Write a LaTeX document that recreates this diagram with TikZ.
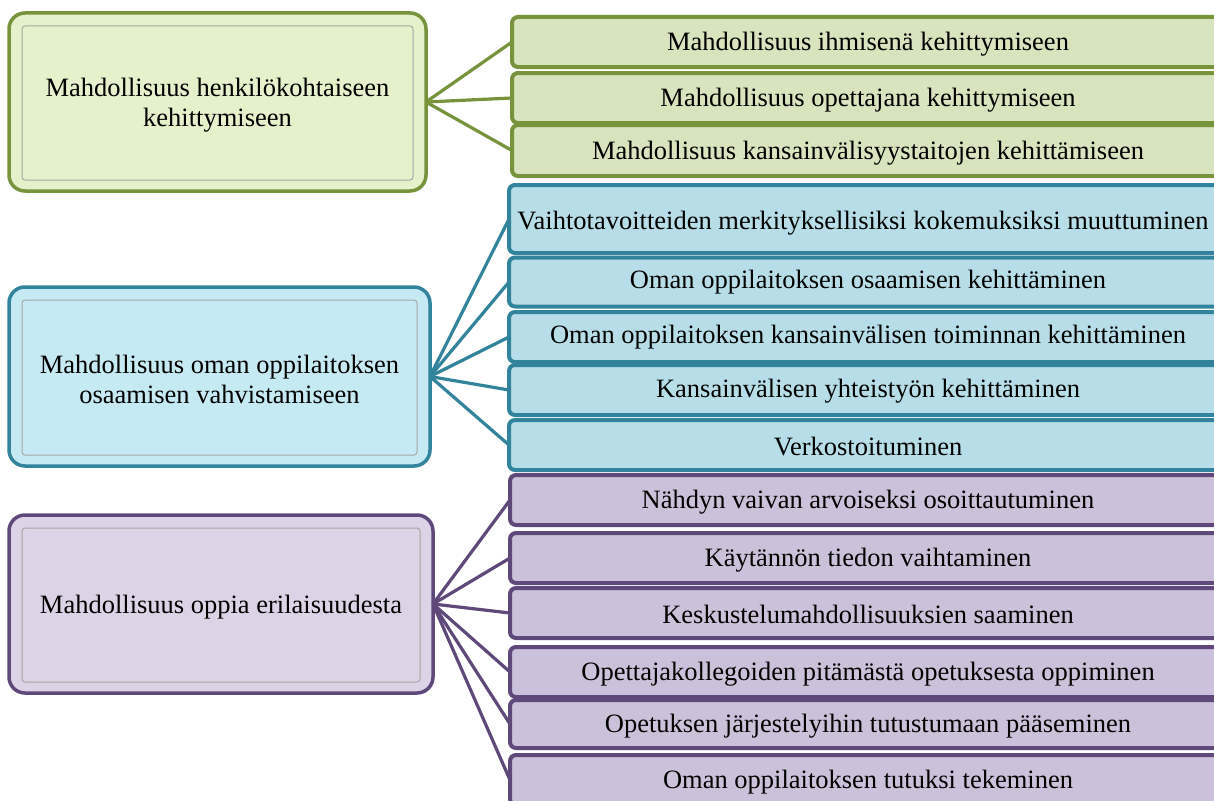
\documentclass[tikz,border=0pt]{standalone}
\usepackage{fontspec}
\setmainfont{Liberation Serif}
\definecolor{gline}{HTML}{77933C}
\definecolor{gfillR}{HTML}{D7E4BD}
\definecolor{gfillL}{HTML}{E4F1CB}
\definecolor{bline}{HTML}{31849B}
\definecolor{bfillR}{HTML}{B7DEE8}
\definecolor{bfillL}{HTML}{C6EAF4}
\definecolor{pline}{HTML}{5F497A}
\definecolor{pfillR}{HTML}{CCC1DA}
\definecolor{pfillL}{HTML}{DDD3E7}
\tikzset{
  leftbox/.style={draw=#1, line width=3.5pt, rounded corners=16pt, outer sep=0pt, inner sep=0pt, align=center},
  rightbox/.style={draw=#1, line width=4pt, rounded corners=6pt, outer sep=0pt, inner sep=0pt, minimum width=714pt, anchor=center},
  conn/.style={draw=#1, line width=3.2pt},
  bevel/.style={draw=black!35, line width=1pt, rounded corners=3pt},
  rt/.style={font=\fontsize{26.5}{30}\selectfont, inner sep=0pt},
  lt/.style={align=center, font=\fontsize{26.5}{30}\selectfont}
}
\begin{document}
\begin{tikzpicture}[x=1pt,y=-1pt]
\useasboundingbox (0,0) rectangle (1214,800);
\clip (0,0) rectangle (1214,800);
\fill[white] (0,0) rectangle (1214,800);

% left boxes
\node[leftbox=gline, fill=gfillL, minimum width=417pt, minimum height=178pt] (G) at (217.5,102) {};
\draw[bevel, fill=gfillL] ([shift={(13,13)}]G.north west) rectangle ([shift={(-13,-11)}]G.south east);
\node[lt] (Gt) at (217.5,105) {Mahdollisuus henkilökohtaiseen\\kehittymiseen};

\node[leftbox=bline, fill=bfillL, minimum width=421pt, minimum height=179pt] (B) at (219.5,376.5) {};
\draw[bevel, fill=bfillL] ([shift={(13,13)}]B.north west) rectangle ([shift={(-13,-11)}]B.south east);
\node[lt] (Bt) at (219.5,379) {Mahdollisuus oman oppilaitoksen\\osaamisen vahvistamiseen};

\node[leftbox=pline, fill=pfillL, minimum width=424pt, minimum height=178pt] (P) at (221,604) {};
\draw[bevel, fill=pfillL] ([shift={(13,13)}]P.north west) rectangle ([shift={(-13,-11)}]P.south east);
\node[lt] (Pt) at (221,607) {Mahdollisuus oppia erilaisuudesta};

% right boxes: green
\node[rightbox=gline, fill=gfillR, minimum height=50pt] (g1) at (869,42) {};
\node[rightbox=gline, fill=gfillR, minimum height=50pt] (g2) at (869,98) {};
\node[rightbox=gline, fill=gfillR, minimum height=51pt] (g3) at (869,150.5) {};
% blue
\node[rightbox=bline, fill=bfillR, minimum height=68pt] (b1) at (866,219) {};
\node[rightbox=bline, fill=bfillR, minimum height=49pt] (b2) at (866,282) {};
\node[rightbox=bline, fill=bfillR, minimum height=50pt] (b3) at (866,337) {};
\node[rightbox=bline, fill=bfillR, minimum height=50pt] (b4) at (866,390) {};
\node[rightbox=bline, fill=bfillR, minimum height=50pt] (b5) at (866,445) {};
% purple
\node[rightbox=pline, fill=pfillR, minimum height=50pt] (p1) at (867,500) {};
\node[rightbox=pline, fill=pfillR, minimum height=50pt] (p2) at (867,558) {};
\node[rightbox=pline, fill=pfillR, minimum height=50pt] (p3) at (867,613) {};
\node[rightbox=pline, fill=pfillR, minimum height=50pt] (p4) at (867,672) {};
\node[rightbox=pline, fill=pfillR, minimum height=48pt] (p5) at (867,724) {};
\node[rightbox=pline, fill=pfillR, minimum height=50pt] (p6) at (867,780) {};

% texts
\node[rt] (g1t) at (868,44) {Mahdollisuus ihmisenä kehittymiseen};
\node[rt] (g2t) at (868,100) {Mahdollisuus opettajana kehittymiseen};
\node[rt] (g3t) at (868,153) {Mahdollisuus kansainvälisyystaitojen kehittämiseen};
\node[rt] (b1t) at (863,223) {Vaihtotavoitteiden merkityksellisiksi kokemuksiksi muuttuminen};
\node[rt] (b2t) at (868,282) {Oman oppilaitoksen osaamisen kehittäminen};
\node[rt] (b3t) at (868,337) {Oman oppilaitoksen kansainvälisen toiminnan kehittäminen};
\node[rt] (b4t) at (868,391) {Kansainvälisen yhteistyön kehittäminen};
\node[rt] (b5t) at (868,447) {Verkostoituminen};
\node[rt] (p1t) at (868,502) {Nähdyn vaivan arvoiseksi osoittautuminen};
\node[rt] (p2t) at (868,560) {Käytännön tiedon vaihtaminen};
\node[rt] (p3t) at (868,614) {Keskustelumahdollisuuksien saaminen};
\node[rt] (p4t) at (868,674) {Opettajakollegoiden pitämästä opetuksesta oppiminen};
\node[rt] (p5t) at (868,726) {Opetuksen järjestelyihin tutustumaan pääseminen};
\node[rt] (p6t) at (868,782) {Oman oppilaitoksen tutuksi tekeminen};

% connectors
\foreach \t in {g1,g2,g3} \draw[conn=gline] (G.east) -- (\t.west);
\foreach \t in {b1,b2,b3,b4,b5} \draw[conn=bline] (B.east) -- (\t.west);
\foreach \t in {p1,p2,p3,p4,p5,p6} \draw[conn=pline] (P.east) -- (\t.west);
\end{tikzpicture}
\end{document}
